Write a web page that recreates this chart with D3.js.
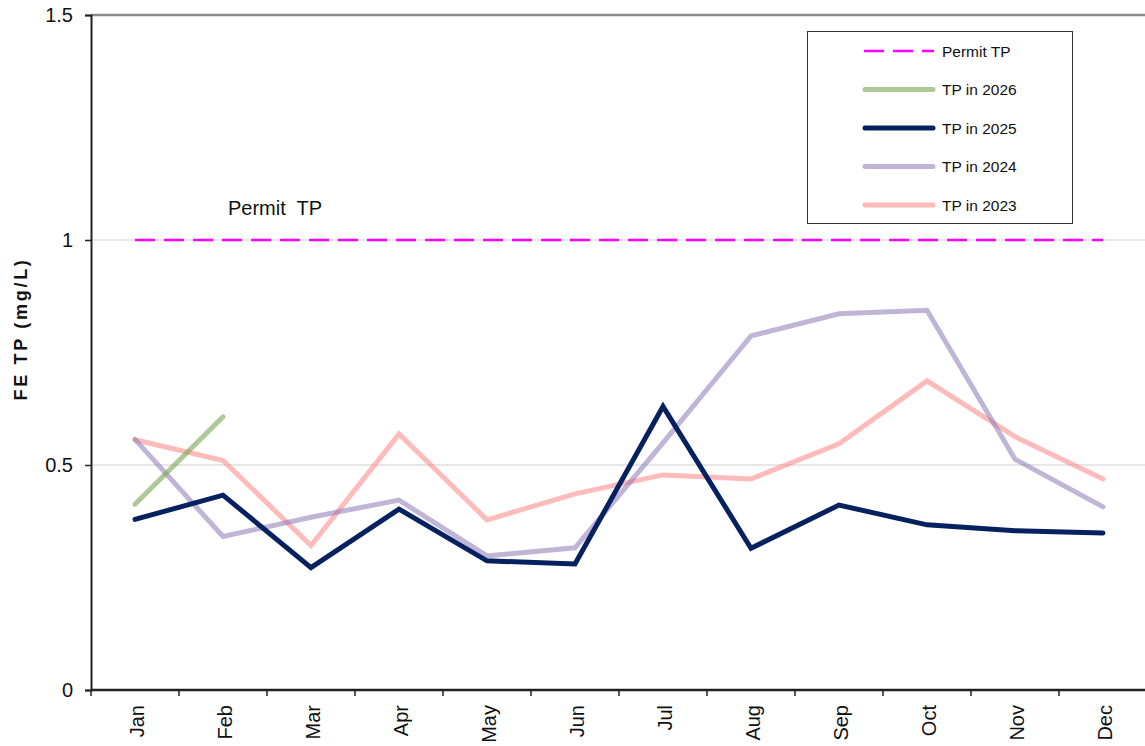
<!DOCTYPE html>
<html>
<head>
<meta charset="utf-8">
<script src="https://cdn.jsdelivr.net/npm/d3@7/dist/d3.min.js"></script>
<style>
  html, body { margin: 0; padding: 0; background: #fff; }
  svg { display: block; font-family: "Liberation Sans", Arial, sans-serif; }
</style>
</head>
<body>
<svg id="chart" width="1145" height="746"></svg>
<script>
// Monthly final-effluent total phosphorus (mg/L)
const months = ["Jan","Feb","Mar","Apr","May","Jun","Jul","Aug","Sep","Oct","Nov","Dec"];
const yTicks = [0, 0.5, 1, 1.5];
const permitTP = 1.0;
const tp2026 = [0.413, 0.607];
const tp2025 = [0.379, 0.433, 0.272, 0.402, 0.287, 0.280, 0.630, 0.315, 0.411, 0.367, 0.354, 0.349];
const tp2024 = [0.557, 0.341, 0.384, 0.422, 0.298, 0.316, 0.549, 0.787, 0.836, 0.844, 0.513, 0.407];
const tp2023 = [0.556, 0.510, 0.321, 0.569, 0.378, 0.436, 0.478, 0.469, 0.547, 0.687, 0.563, 0.469];

const svg = d3.select("#chart");
const plotLeft = 91, plotRight = 1147, plotTop = 15, plotBottom = 690;

const x = d3.scaleBand().domain(months).range([plotLeft, plotRight]);
const y = d3.scaleLinear().domain([0, 1.5]).range([plotBottom, plotTop]);
const cx = m => x(m) + x.bandwidth() / 2;

// horizontal gridlines
svg.append("g").selectAll("line")
  .data(yTicks.filter(t => t > 0))
  .join("line")
  .attr("x1", plotLeft).attr("x2", 1145)
  .attr("y1", d => y(d)).attr("y2", d => y(d))
  .attr("stroke", d => d === 1.5 ? "#8a8a8a" : "#cfcfcf")
  .attr("stroke-width", d => d === 1.5 ? 2.5 : 1);

// y axis
const yAxis = svg.append("g")
  .attr("transform", `translate(${plotLeft},0)`)
  .call(d3.axisLeft(y).tickValues(yTicks).tickSize(6).tickPadding(12).tickFormat(d => String(d)));
yAxis.select(".domain").attr("stroke", "#222").attr("stroke-width", 2);
yAxis.selectAll(".tick line").attr("stroke", "#222").attr("stroke-width", 1.5);
yAxis.selectAll("text").attr("font-size", 20).attr("fill", "#111")
  .attr("font-family", "Liberation Sans, Arial, sans-serif");

// x axis with ticks at band boundaries
const xAxisG = svg.append("g").attr("transform", `translate(0,${plotBottom})`);
xAxisG.append("line").attr("x1", plotLeft).attr("x2", 1145).attr("y1", 0).attr("y2", 0)
  .attr("stroke", "#222").attr("stroke-width", 2.5);
xAxisG.selectAll("line.tk")
  .data(months.map(m => x(m)).concat([plotRight]))
  .join("line").attr("class", "tk")
  .attr("x1", d => d).attr("x2", d => d).attr("y1", 0).attr("y2", 6)
  .attr("stroke", "#222").attr("stroke-width", 1.5);
xAxisG.selectAll("text")
  .data(months)
  .join("text")
  .attr("transform", d => `translate(${cx(d) + 8.5},15) rotate(-90)`)
  .attr("text-anchor", "end")
  .attr("font-size", 20)
  .attr("fill", "#111")
  .text(d => d);

// y axis title
svg.append("text")
  .attr("transform", `translate(27,329) rotate(-90)`)
  .attr("text-anchor", "middle")
  .attr("font-size", 18).attr("font-weight", "bold")
  .attr("letter-spacing", 2.7)
  .attr("fill", "#111")
  .text("FE TP (mg/L)");

// permit limit
svg.append("line")
  .attr("x1", cx("Jan")).attr("x2", cx("Dec"))
  .attr("y1", y(permitTP)).attr("y2", y(permitTP))
  .attr("stroke", "#ff00ff").attr("stroke-width", 2.5)
  .attr("stroke-dasharray", "20,9");
svg.append("text")
  .attr("x", 228).attr("y", 215)
  .attr("font-size", 20).attr("fill", "#111")
  .style("white-space", "pre")
  .text("Permit  TP");

// series lines
const series = [
  { name: "TP in 2023", values: tp2023, color: "rgb(255,130,130)", opacity: 0.55 },
  { name: "TP in 2024", values: tp2024, color: "rgb(140,120,180)", opacity: 0.55 },
  { name: "TP in 2026", values: tp2026, color: "rgb(120,165,80)", opacity: 0.6 },
  { name: "TP in 2025", values: tp2025, color: "#062160", opacity: 1 }
];
const line = d3.line().x((d, i) => cx(months[i])).y(d => y(d));
svg.append("g").selectAll("path")
  .data(series)
  .join("path")
  .attr("d", d => line(d.values))
  .attr("fill", "none")
  .attr("stroke", d => d.color)
  .attr("stroke-opacity", d => d.opacity)
  .attr("stroke-width", 5)
  .attr("stroke-linejoin", "miter")
  .attr("stroke-linecap", "round");

// legend
const lg = svg.append("g");
lg.append("rect").attr("x", 807.5).attr("y", 31.5).attr("width", 265).attr("height", 192)
  .attr("fill", "#fff").attr("stroke", "#333").attr("stroke-width", 1);
const legendItems = [
  { name: "Permit TP", color: "#ff00ff", opacity: 1, dash: "20,9", width: 2.5 },
  { name: "TP in 2026", color: "rgb(120,165,80)", opacity: 0.6, width: 5 },
  { name: "TP in 2025", color: "#062160", opacity: 1, width: 5 },
  { name: "TP in 2024", color: "rgb(140,120,180)", opacity: 0.55, width: 5 },
  { name: "TP in 2023", color: "rgb(255,130,130)", opacity: 0.55, width: 5 }
];
const ly = d3.scalePoint().domain(legendItems.map(d => d.name)).range([51, 205]);
lg.selectAll("line")
  .data(legendItems)
  .join("line")
  .attr("x1", d => d.dash ? 864 : 865).attr("x2", d => d.dash ? 934 : 933)
  .attr("y1", d => ly(d.name)).attr("y2", d => ly(d.name))
  .attr("stroke", d => d.color)
  .attr("stroke-opacity", d => d.opacity)
  .attr("stroke-width", d => d.width)
  .attr("stroke-dasharray", d => d.dash || null)
  .attr("stroke-linecap", d => d.dash ? "butt" : "round");
lg.selectAll("text")
  .data(legendItems)
  .join("text")
  .attr("x", 942).attr("y", d => ly(d.name) + 5.5)
  .attr("font-size", 15.5).attr("fill", "#111")
  .text(d => d.name);
</script>
</body>
</html>
